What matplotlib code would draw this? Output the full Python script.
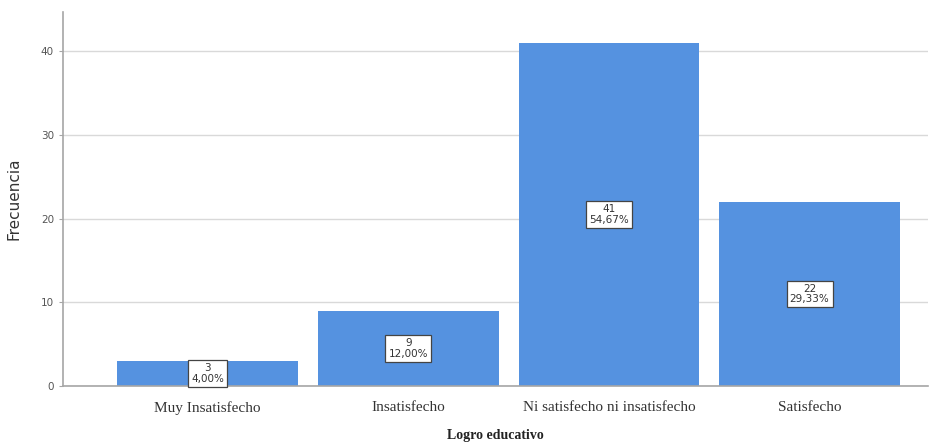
import matplotlib.pyplot as plt

DPI = 100

categories = ["Muy Insatisfecho", "Insatisfecho", "Ni satisfecho ni insatisfecho", "Satisfecho"]
counts = [3, 9, 41, 22]
percents = ["4,00%", "12,00%", "54,67%", "29,33%"]

BAR_COLOR = "#5592e0"
GRID_COLOR = "#d9d9d9"
AXIS_COLOR = "#a6a6a6"


def build_bar_plot():
    fig = plt.figure(figsize=(9.46, 4.44), dpi=DPI)
    ax = fig.add_axes([0.0666, 0.1306, 0.9144, 0.8424])

    x = list(range(len(categories)))
    ax.bar(x, counts, width=0.9, color=BAR_COLOR, zorder=2)

    # count + percentage boxes in the middle of each bar
    for xi, c, p in zip(x, counts, percents):
        ax.text(
            xi, c / 2, f"{c}\n{p}",
            ha="center", va="center", fontsize=7.5, color="#333333",
            family="DejaVu Sans", linespacing=1.05, zorder=4,
            bbox=dict(boxstyle="square,pad=0.3", fc="white", ec="#444444", lw=0.9),
        )

    ax.set_xlim(-0.72, 3.59)
    ax.set_ylim(0, 44.7)
    ax.set_yticks([0, 10, 20, 30, 40])
    ax.yaxis.grid(True, color=GRID_COLOR, lw=1.0, zorder=0)
    ax.set_axisbelow(True)

    ax.set_xticks(x)
    ax.set_xticklabels(categories, family="Liberation Serif", fontsize=11, color="#333333")
    ax.tick_params(axis="x", length=0, pad=11)
    ax.tick_params(axis="y", length=3, color=AXIS_COLOR, labelsize=7.5, labelcolor="#555555")

    for side in ("top", "right"):
        ax.spines[side].set_visible(False)
    for side in ("left", "bottom"):
        ax.spines[side].set_color(AXIS_COLOR)
        ax.spines[side].set_linewidth(1.2)

    ax.set_ylabel("Frecuencia", fontsize=11, color="#333333", labelpad=14)
    ax.set_xlabel("Logro educativo", family="Liberation Serif", fontweight="bold",
                  fontsize=10, color="#222222", labelpad=10)

    fig.savefig("out.png", dpi=DPI)


def main():
    build_bar_plot()


if __name__ == "__main__":
    main()
